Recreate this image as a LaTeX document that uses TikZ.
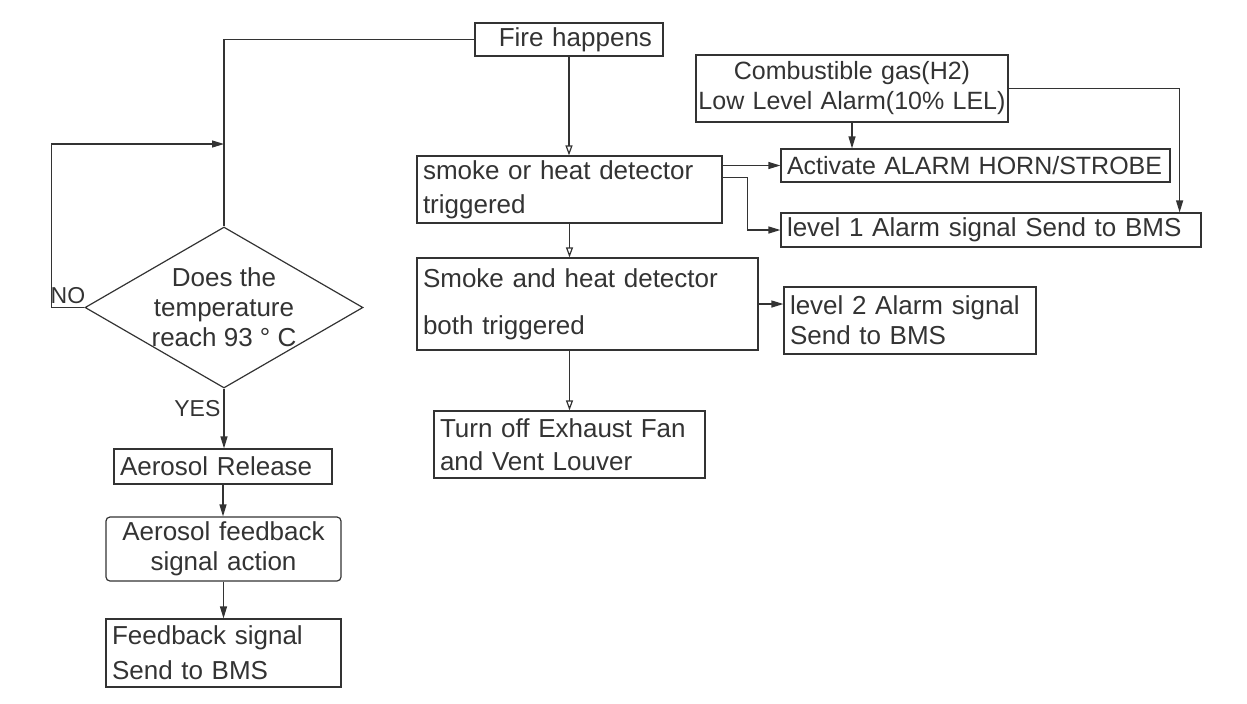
\documentclass[tikz,border=0pt]{standalone}
\usepackage{fontspec}
\setmainfont{Liberation Sans}
\usetikzlibrary{arrows.meta,shapes.geometric}
\tikzset{
    block/.style={
           rectangle,
           draw,
           line width=0.6pt,
           inner xsep=3pt,
           inner ysep=0pt,
           align=left,
           font=\fontsize{13pt}{15pt}\selectfont,
           },
    decision/.style={
           diamond,
           draw,
           line width=0.6pt,
           inner sep=0pt,
           minimum width=139pt,
           minimum height=80.5pt,
           },
    tag/.style={font=\fontsize{11.5pt}{13pt}\selectfont, inner sep=1.5pt},
    hollow/.style={-{Triangle[open,length=5pt,width=3.5pt]}},
}

\begin{document}
\begin{tikzpicture}[x=0.5pt,y=-0.5pt,color=black!80,line width=0.6pt,
  >={Triangle[length=6pt,width=3.5pt]}]
 \useasboundingbox (0,0) rectangle (1247,703);

 % fire detection branch
 \node[block, text width=83pt, align=right, inner xsep=5.5pt,
 minimum height=16.5pt] (FIRE) at (569,39.5) {Fire happens};

 \node[block, text width=146.5pt, minimum height=33.5pt] (SMOKE)
 at (569.5,189.5) {smoke or heat detector\\[2pt]triggered};

 \node[block, text width=164.5pt, minimum height=46pt] (BOTH)
 at (587.5,304) {Smoke and heat detector\\[8.5pt]both triggered};

 \node[block, text width=129.5pt, minimum height=33.5pt] (FAN)
 at (569.5,444.5) {Turn off Exhaust Fan\\[1.5pt]and Vent Louver};

 % gas alarm and signals
 \node[block, text width=154pt, align=center, inner xsep=1pt,
 minimum height=33.5pt, font=\fontsize{12.5pt}{15pt}\selectfont] (GAS)
 at (852,88.5) {Combustible gas(H2)\\Low Level Alarm(10\% LEL)};

 \node[block, text width=188.5pt, minimum height=16.5pt,
 font=\fontsize{12.5pt}{15pt}\selectfont] (HORN)
 at (975.5,165.5) {Activate ALARM HORN/STROBE};

 \node[block, text width=204pt, minimum height=17pt] (LEVELONE)
 at (991,230) {level 1 Alarm signal Send to BMS};

 \node[block, text width=120pt, minimum height=33.5pt] (LEVELTWO)
 at (910,320.5) {level 2 Alarm signal\\Send to BMS};

 % aerosol branch
 \node[decision, label={[align=center, font=\fontsize{13pt}{15pt}\selectfont]
 center:Does the\\temperature\\reach 93 ° C}] (TEMP) at (224,307.5) {};

 \node[block, text width=103pt, minimum height=17.5pt] (RELEASE)
 at (223,466.5) {Aerosol Release};

 \node[block, text width=111.5pt, align=center, rounded corners=2pt,
 minimum height=32pt] (FEEDBACK) at (223.5,549) {Aerosol feedback\\signal action};

 \node[block, text width=111.5pt, minimum height=34pt] (SIGNAL)
 at (223.5,653) {Feedback signal\\[2.5pt]Send to BMS};

 \coordinate (JOIN) at (224,144);

 \draw (FIRE.west) -| (TEMP.north);
 \draw[->] (TEMP.west) -- node[tag, above]{NO} ++(-33,0) |- (JOIN);
 \draw[->] (TEMP.south) -- node[tag, left, pos=0.33]{YES} (TEMP.south |- RELEASE.north);
 \draw[->] (RELEASE.south) -- (RELEASE.south |- FEEDBACK.north);
 \draw[->] (FEEDBACK.south) -- (SIGNAL.north);

 \draw[hollow] (FIRE.south) -- (FIRE.south |- SMOKE.north);
 \draw[hollow] (SMOKE.south) -- (SMOKE.south |- BOTH.north);
 \draw[hollow] (FAN.north |- BOTH.south) -- (FAN.north);

 \draw[->] (SMOKE.east |- HORN.west) -- (HORN.west);
 \draw[->] (SMOKE.north east) ++(0,22) -- ++(25,0) |- (LEVELONE.west);
 \draw[->] (GAS.south) -- (GAS.south |- HORN.north);
 \draw[->] (GAS.east) -| ([xshift=-11pt]LEVELONE.north east);
 \draw[->] (BOTH.east) -- (BOTH.east -| LEVELTWO.west);
\end{tikzpicture}
\end{document}
